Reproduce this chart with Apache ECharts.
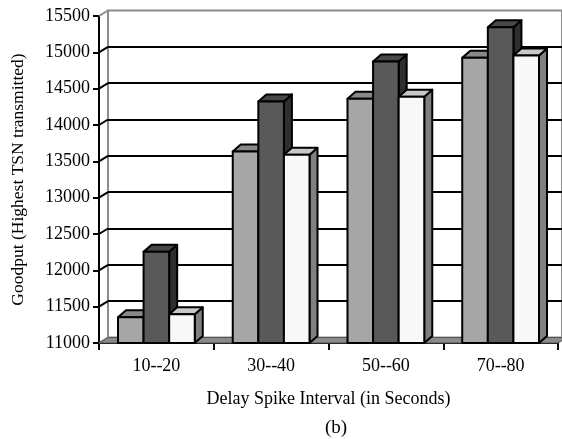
<!DOCTYPE html>
<html>
<head>
<meta charset="utf-8">
<script src="https://cdn.jsdelivr.net/npm/echarts@6/dist/echarts.min.js"></script>
<style>
  html, body { margin: 0; padding: 0; background: #fff; }
  #chart { width: 562px; height: 439px; }
</style>
</head>
<body>
<div id="chart"></div>
<script>
// Goodput per delay-spike interval, three configurations per group
const categories = ['10--20', '30--40', '50--60', '70--80'];
const seriesA = [11355, 13635, 14360, 14925];
const seriesB = [12255, 14325, 14875, 15345];
const seriesC = [11395, 13590, 14390, 14955];
const yTicks = [11000, 11500, 12000, 12500, 13000, 13500, 14000, 14500, 15000, 15500];

const Y_MIN = 11000, Y_MAX = 15500, Y_STEP = 500;
const FONT = 'Liberation Serif';

// oblique projection offsets (walls and bar depth)
const WALL_DX = 9, WALL_DY = 5.5;
const BAR_DX = 8, BAR_DY = 7;

const chart = echarts.init(document.getElementById('chart'), null, { renderer: 'canvas' });

function barSeries(values, k, front, top, side) {
  return {
    type: 'custom',
    xAxisIndex: 0,
    yAxisIndex: 0,
    z: 5 + k,
    data: values.map((v, i) => [i, v]),
    renderItem: function (params, api) {
      const i = api.value(0), v = api.value(1);
      const c = api.coord([i, v]);
      const b = api.coord([i, Y_MIN]);
      const band = api.size([1, 0])[0];
      const bw = band * 0.223;
      const x0 = c[0] - 1.5 * bw + k * bw, x1 = x0 + bw;
      const yt = c[1], yb = b[1];
      const stroke = { stroke: '#000', lineWidth: 2, lineJoin: 'round' };
      return {
        type: 'group',
        children: [
          { type: 'polygon', shape: { points: [[x1, yt], [x1 + BAR_DX, yt - BAR_DY], [x1 + BAR_DX, yb - BAR_DY], [x1, yb]] },
            style: Object.assign({ fill: side }, stroke) },
          { type: 'polygon', shape: { points: [[x0, yt], [x1, yt], [x1 + BAR_DX, yt - BAR_DY], [x0 + BAR_DX, yt - BAR_DY]] },
            style: Object.assign({ fill: top }, stroke) },
          { type: 'rect', shape: { x: x0, y: yt, width: bw, height: yb - yt },
            style: Object.assign({ fill: front }, stroke) }
        ]
      };
    }
  };
}

const option = {
  animation: false,
  backgroundColor: '#fff',
  grid: [
    { left: 99, right: 4, top: 16, bottom: 96 },
    // back wall, shifted by the depth offset
    { left: 99 + WALL_DX, right: -10, top: 16 - WALL_DY, bottom: 96 + WALL_DY,
      show: true, borderColor: '#8c8c8c', borderWidth: 2, backgroundColor: 'transparent' }
  ],
  xAxis: [
    {
      gridIndex: 0, type: 'category', data: categories,
      axisLine: { lineStyle: { color: '#000', width: 2 } },
      axisTick: { show: true, length: 7, lineStyle: { color: '#000', width: 2 } },
      axisLabel: { color: '#000', fontFamily: FONT, fontSize: 18, margin: 14 },
      name: 'Delay Spike Interval (in Seconds)',
      nameLocation: 'middle', nameGap: 47,
      nameTextStyle: { color: '#000', fontFamily: FONT, fontSize: 18 }
    },
    { gridIndex: 1, type: 'category', data: categories, show: false }
  ],
  yAxis: [
    {
      gridIndex: 0, type: 'value', min: Y_MIN, max: Y_MAX, interval: Y_STEP,
      axisLine: { show: true, lineStyle: { color: '#000', width: 2 } },
      axisTick: { show: true, length: 6, lineStyle: { color: '#000', width: 2 } },
      axisLabel: { color: '#000', fontFamily: FONT, fontSize: 18, margin: 9,
                   formatter: v => String(v) },
      splitLine: { show: false },
      name: 'Goodput (Highest TSN transmitted)',
      nameLocation: 'middle', nameGap: 72,
      nameTextStyle: { color: '#000', fontFamily: FONT, fontSize: 17.5 }
    },
    {
      gridIndex: 1, type: 'value', min: Y_MIN, max: Y_MAX, interval: Y_STEP,
      axisLine: { show: false }, axisTick: { show: false }, axisLabel: { show: false },
      splitLine: { show: true, showMinLine: false, showMaxLine: false, lineStyle: { color: '#000', width: 2 } }
    }
  ],
  graphic: [
    { type: 'text', left: 325, top: 419,
      style: { text: '(b)', fill: '#000', font: '19px "Liberation Serif"' } }
  ],
  series: [
    // diagonal connectors from front axis ticks to back-wall gridlines
    {
      type: 'custom', xAxisIndex: 0, yAxisIndex: 0, z: 1,
      data: yTicks.map(v => [0, v]),
      renderItem: function (params, api) {
        const v = api.value(1);
        const y = api.coord([0, v])[1];
        const x = params.coordSys.x;
        return {
          type: 'line',
          shape: { x1: x, y1: y, x2: x + WALL_DX, y2: y - WALL_DY },
          style: { stroke: (v === Y_MAX || v === Y_MIN) ? '#8c8c8c' : '#000', lineWidth: 2 }
        };
      }
    },
    // floor
    {
      type: 'custom', xAxisIndex: 0, yAxisIndex: 0, z: 2,
      data: [[0, Y_MIN]],
      renderItem: function (params, api) {
        const cs = params.coordSys;
        const yb = cs.y + cs.height;
        return {
          type: 'polygon',
          shape: { points: [[cs.x, yb], [cs.x + cs.width, yb], [cs.x + cs.width + WALL_DX, yb - WALL_DY], [cs.x + WALL_DX, yb - WALL_DY]] },
          style: { fill: '#8a8a8a', stroke: '#555', lineWidth: 1 }
        };
      }
    },
    barSeries(seriesA, 0, '#a6a6a6', '#888888', '#777777'),
    barSeries(seriesB, 1, '#595959', '#474747', '#2f2f2f'),
    barSeries(seriesC, 2, '#f8f8f8', '#c8c8c8', '#808080')
  ]
};

chart.setOption(option);
</script>
</body>
</html>
